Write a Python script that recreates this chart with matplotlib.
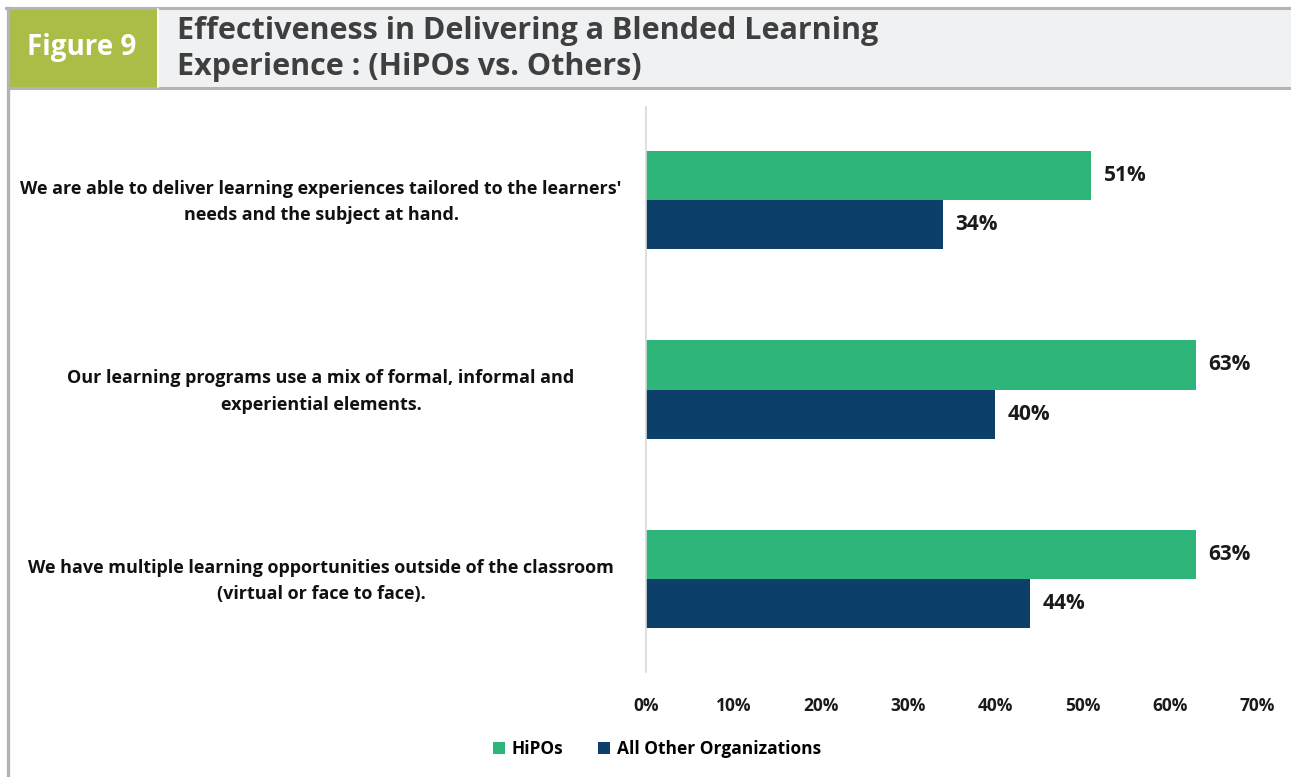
import matplotlib
matplotlib.use("Agg")
import matplotlib.pyplot as plt
from matplotlib.patches import Rectangle
from matplotlib.lines import Line2D
from matplotlib.transforms import blended_transform_factory

categories = [
    "We are able to deliver learning experiences tailored to the learners'\nneeds and the subject at hand.",
    "Our learning programs use a mix of formal, informal and\nexperiential elements.",
    "We have multiple learning opportunities outside of the classroom\n(virtual or face to face).",
]
hipos = [51, 63, 63]
others = [34, 40, 44]
series_names = ["HiPOs", "All Other Organizations"]
x_ticks = [0, 10, 20, 30, 40, 50, 60, 70]

GREEN = "#2eb67a"
NAVY = "#0d3f6b"
OLIVE = "#abbd47"
HEADER_BG = "#f0f1f3"
BORDER = "#b4b4b4"
FONT = "Open Sans"

W, H = 1291, 777
fig = plt.figure(figsize=(W / 100, H / 100), dpi=100)
fig.patch.set_facecolor("white")


def fx(px):
    return px / W


def fy(py):
    return 1 - py / H


# header band with the figure tag
fig.patches.append(Rectangle((fx(8), fy(88)), fx(W - 8), 80 / H,
                             transform=fig.transFigure, facecolor=HEADER_BG,
                             edgecolor="none", zorder=0))
fig.patches.append(Rectangle((fx(8), fy(88)), fx(149), 80 / H,
                             transform=fig.transFigure, facecolor=OLIVE,
                             edgecolor="none", zorder=1))
fig.lines.append(Line2D([fx(6), 1], [fy(8), fy(8)], transform=fig.transFigure,
                        color=BORDER, lw=2.2, zorder=2))
fig.lines.append(Line2D([fx(8), 1], [fy(88), fy(88)], transform=fig.transFigure,
                        color=BORDER, lw=2.2, zorder=2))
fig.lines.append(Line2D([fx(8), fx(8)], [fy(8), 0], transform=fig.transFigure,
                        color=BORDER, lw=2.4, zorder=2))
fig.lines.append(Line2D([fx(157.5), fx(157.5)], [fy(9), fy(87)], transform=fig.transFigure,
                        color="white", lw=1.2, zorder=2))

fig.text(fx(82), fy(47), "Figure 9", color="white", fontsize=20, fontweight="bold",
         family=FONT, ha="center", va="center")
fig.text(fx(177), fy(49), "Effectiveness in Delivering a Blended Learning\nExperience : (HiPOs vs. Others)",
         color="#3f3f3f", fontsize=22, fontweight="bold", family=FONT,
         ha="left", va="center", linespacing=1.22)

# chart area
ax = fig.add_axes([fx(646), fy(672), fx(1257) - fx(646), (672 - 107) / H])
n = len(categories)
pos = list(range(n))
h = 0.259
ax.barh([p - h / 2 for p in pos], hipos, height=h, color=GREEN, label=series_names[0])
ax.barh([p + h / 2 for p in pos], others, height=h, color=NAVY, label=series_names[1])

for p, v in zip(pos, hipos):
    ax.text(v + 1.45, p - h / 2, f"{v}%", va="center", ha="left",
            fontsize=15, fontweight="bold", family=FONT, color="#1a1a1a")
for p, v in zip(pos, others):
    ax.text(v + 1.45, p + h / 2, f"{v}%", va="center", ha="left",
            fontsize=15, fontweight="bold", family=FONT, color="#1a1a1a")

ax.set_xlim(0, 70)
ax.set_ylim(n - 1 + 0.49, -0.49)
ax.set_xticks(x_ticks)
ax.set_xticklabels([f"{t}%" for t in x_ticks], fontsize=12.5, fontweight="bold",
                   family=FONT, color="#1a1a1a")
ax.tick_params(axis="x", length=0, pad=18)
ax.set_yticks([])
for s in ["top", "right", "bottom"]:
    ax.spines[s].set_visible(False)
ax.spines["left"].set_color("#d9d9d9")
ax.spines["left"].set_linewidth(1.2)

# category labels, centered to the left of the axis
tr = blended_transform_factory(fig.transFigure, ax.transData)
for p, label in zip(pos, categories):
    ax.text(fx(321), p + 0.01, label, transform=tr, ha="center", va="center",
            fontsize=13, fontweight="bold", family=FONT, color="#111111",
            linespacing=1.6)

fig.legend(loc="center", bbox_to_anchor=(fx(657), fy(749)), ncol=2, frameon=False,
           prop={"family": FONT, "weight": "bold", "size": 12.5},
           handlelength=0.7, handleheight=0.7, handletextpad=0.4, columnspacing=2.0)

fig.savefig("out.png", dpi=100)
